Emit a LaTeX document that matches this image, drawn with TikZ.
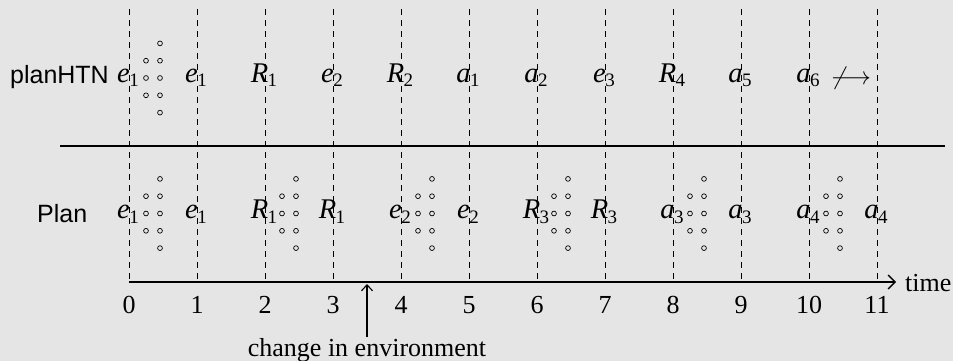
\documentclass[tikz,border=0pt]{standalone}
\usepackage{fontspec}
\setmainfont{Liberation Serif}
\setsansfont{Liberation Sans}
\usetikzlibrary{arrows.meta}
\definecolor{bgc}{HTML}{E5E5E5}
\newcommand\lb[2]{\textit{#1}\kern-0.5pt\raisebox{-5pt}{\fontsize{19}{19}\selectfont #2}}
\begin{document}
\begin{tikzpicture}[x=1pt,y=-1pt,
  lbl/.style={font=\fontsize{26}{30}\selectfont, inner sep=0pt, anchor=base},
  mlbl/.style={font=\fontsize{28.5}{32}\selectfont, inner sep=0pt, anchor=base},
  sans/.style={font=\sffamily\fontsize{25}{29}\selectfont, inner sep=0pt},
  dashline/.style={dash pattern=on 6pt off 5pt, line width=0.8pt},
  dotc/.style={circle, draw, line width=0.7pt, minimum size=4.8pt, inner sep=0pt},
  axisline/.style={line width=1.6pt, -{Straight Barb[length=7pt,width=14pt,line width=1.4pt]}},
  sepline/.style={line width=2pt},
  envarrow/.style={line width=1.2pt, -{Straight Barb[length=6pt,width=11pt,line width=1.1pt]}}]
\fill[bgc] (0,0) rectangle (953,361);
\useasboundingbox (0,0) rectangle (953,361);

% dashed lines, ticks, numbers
\foreach \i in {0,...,11} {
  \coordinate (t\i) at ({129+68*\i},282);
  \coordinate (u\i) at ({129+68*\i},9);
  \draw[dashline] (u\i) -- (t\i);
  \node[lbl] (num\i) at ({129+68*\i},313) {\i};
}

% separator
\coordinate (sepL) at (60,146);
\coordinate (sepR) at (945,146);
\draw[sepline] (sepL) -- (sepR);

% time axis
\coordinate (tend) at (896,282);
\draw[axisline] (t0) -- (tend);
\node[lbl, anchor=base west] (time) at (905,291) {time};

% row titles
\node[sans, anchor=base east] (htn) at (109,83) {planHTN};
\node[sans, anchor=base west] (plan) at (37,222) {Plan};

% planHTN row labels (baseline 82)
\foreach \i/\l/\s in {0/e/1,1/e/1,2/R/1,3/e/2,4/R/2,5/a/1,6/a/2,7/e/3,8/R/4,9/a/5,10/a/6} {
  \node[mlbl] (h\i) at ({128+68*\i},82) {\lb{\l}{\s}};
}
\node[lbl, anchor=center] (notarrow) at (851,78) {\fontsize{28}{30}\selectfont$\not\longrightarrow$};

% Plan row labels (baseline 218.5)
\foreach \i/\l/\s in {0/e/1,1/e/1,2/R/1,3/R/1,4/e/2,5/e/2,6/R/3,7/R/3,8/a/3,9/a/3,10/a/4,11/a/4} {
  \node[mlbl] (p\i) at ({128+68*\i},218.5) {\lb{\l}{\s}};
}

% dot groups
\foreach \x/\y/\n in {129/78/a, 129/213.5/b, 265/213.5/c, 401/213.5/d, 537/213.5/e, 673/213.5/f, 809/213.5/g} {
  \foreach \k in {-1,0,1} {
    \node[dotc] (dl\n\k) at ({\x+17},{\y+17.3*\k}) {};
  }
  \foreach \k in {-2,-1,0,1,2} {
    \node[dotc] (dr\n\k) at ({\x+31},{\y+17.3*\k}) {};
  }
}

% change in environment
\coordinate (chg) at (367,284);
\node[lbl, inner sep=1pt] (env) at (367,356) {change in environment};
\draw[envarrow] (env.north) -- (chg);
\end{tikzpicture}
\end{document}
